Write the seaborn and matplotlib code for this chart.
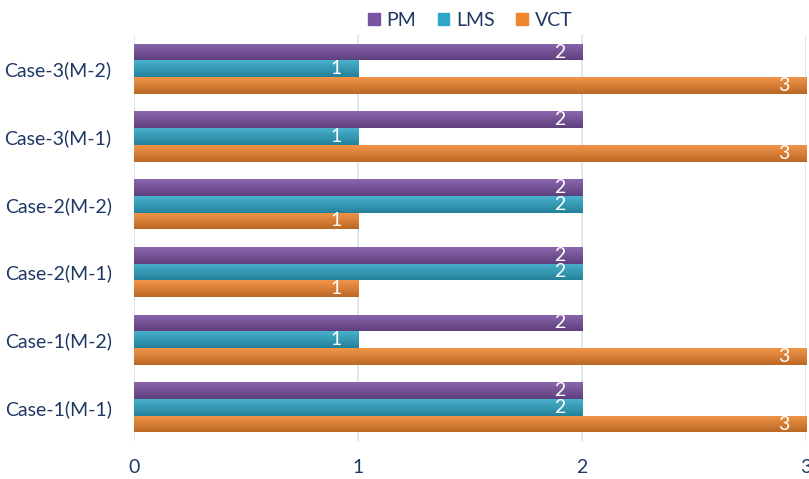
import numpy as np
import pandas as pd
import matplotlib
matplotlib.use("Agg")
import matplotlib.pyplot as plt
import seaborn as sns
from matplotlib.colors import to_rgb
from matplotlib.patches import Rectangle

categories = ["Case-3(M-2)", "Case-3(M-1)", "Case-2(M-2)", "Case-2(M-1)", "Case-1(M-2)", "Case-1(M-1)"]
series = ["PM", "LMS", "VCT"]
pm = [2, 2, 2, 2, 2, 2]
lms = [1, 1, 2, 2, 1, 2]
vct = [3, 3, 1, 1, 3, 3]
ticks = [0, 1, 2, 3]

colors = {"PM": "#7A52A2", "LMS": "#2FA6C6", "VCT": "#F08630"}
text_color = "#1F3864"

rows = []
for s, vals in zip(series, [pm, lms, vct]):
    for c, v in zip(categories, vals):
        rows.append({"Case": c, "Method": s, "Value": v})
df = pd.DataFrame(rows)

sns.set_theme(style="white")
plt.rcParams["font.family"] = ["Lato", "DejaVu Sans"]

fig = plt.figure(figsize=(8.09, 4.79), dpi=100)
ax = fig.add_axes([0.1656, 0.079, 0.8307, 0.848])

sns.barplot(data=df, y="Case", x="Value", hue="Method", order=categories,
            hue_order=series, palette=colors, orient="h", width=0.74,
            ax=ax, saturation=1, edgecolor="none", legend=True)

ax.set_xlim(0, 3)
ax.set_xticks(ticks)
ax.set_xticklabels([str(t) for t in ticks])
ax.xaxis.grid(True, color="#D6E4F0", linewidth=1.2)
ax.set_axisbelow(True)
for sp in ax.spines.values():
    sp.set_visible(False)
ax.set_xlabel("")
ax.set_ylabel("")
ax.tick_params(axis="x", colors=text_color, labelsize=14, pad=13, length=0)
ax.tick_params(axis="y", colors=text_color, labelsize=14, pad=16, length=0)

# gradient fill on bars and value labels
for container, s in zip(ax.containers, series):
    base = np.array(to_rgb(colors[s]))
    light = np.clip(base + (1 - base) * 0.12, 0, 1)
    dark = base * 0.78
    for bar in container:
        x0, y0 = bar.get_x(), bar.get_y()
        w, h = bar.get_width(), bar.get_height()
        t = np.linspace(0, 1, 32)[:, None]
        grad = (light[None, :] * (1 - t) + dark[None, :] * t)[:, None, :]
        grad = np.repeat(grad, 2, axis=1)
        im = ax.imshow(grad, extent=(x0, x0 + w, y0 + h, y0), aspect="auto",
                       interpolation="bilinear", zorder=bar.get_zorder(), origin="upper")
        im.set_clip_path(bar)
        bar.set_facecolor("none")
    ax.bar_label(container, labels=[f"{int(v)}" for v in container.datavalues],
                 label_type="edge", padding=-20, color="white", fontsize=14)

ax.set_xlim(0, 3)
ax.set_ylim(len(categories) - 0.5, -0.5)

handles = [Rectangle((0, 0), 1, 1, color=colors[s]) for s in series]
ax.legend(handles, series, loc="upper center", bbox_to_anchor=(0.5, 1.1),
          ncol=3, frameon=False, fontsize=14, handlelength=0.6, handleheight=0.6,
          handletextpad=0.35, columnspacing=1.1, labelcolor=text_color)

fig.savefig("out.png", dpi=100)
